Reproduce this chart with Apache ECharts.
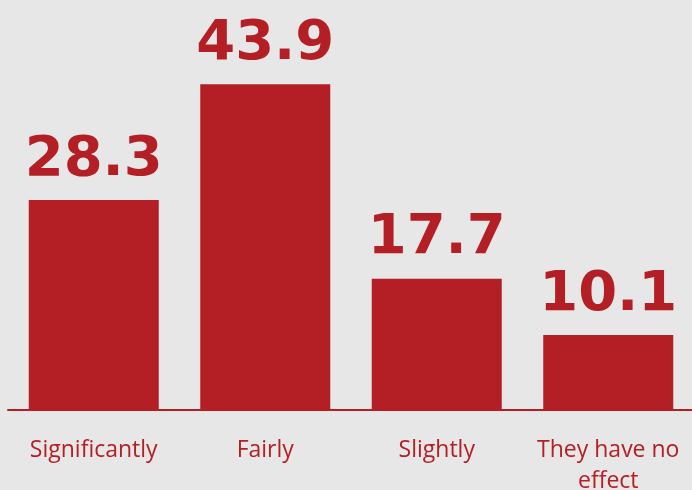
<!DOCTYPE html>
<html>
<head>
<meta charset="utf-8">
<script src="https://cdn.jsdelivr.net/npm/echarts@6/dist/echarts.min.js"></script>
<style>
  html, body { margin: 0; padding: 0; background: #e6e7e6; }
  #chart { width: 692px; height: 490px; }
</style>
</head>
<body>
<div id="chart"></div>
<script>
// categories and values
var categories = ['Significantly', 'Fairly', 'Slightly', 'They have no\neffect'];
var values = [28.3, 43.9, 17.7, 10.1];

var red = '#b31f24';
var chart = echarts.init(document.getElementById('chart'));
chart.setOption({
  backgroundColor: '#e6e7e6',
  animation: false,
  grid: { left: 8, right: -2, top: 39, bottom: 80, containLabel: false, outerBoundsMode: 'none' },
  xAxis: {
    type: 'category',
    data: categories,
    axisTick: { show: false },
    axisLine: { lineStyle: { color: red, width: 2 } },
    axisLabel: {
      color: red,
      fontFamily: 'Open Sans',
      fontSize: 23,
      lineHeight: 31,
      margin: 25,
      interval: 0
    }
  },
  yAxis: {
    type: 'value',
    min: 0,
    max: 50,
    show: false,
    splitLine: { show: false }
  },
  series: [{
    type: 'bar',
    data: values,
    barWidth: 130,
    itemStyle: { color: red },
    label: {
      show: true,
      position: 'top',
      distance: 12,
      color: red,
      fontFamily: 'DejaVu Sans',
      fontWeight: 'bold',
      fontSize: 56,
      formatter: function (p) { return p.value.toFixed(1); }
    }
  }]
});
</script>
</body>
</html>
